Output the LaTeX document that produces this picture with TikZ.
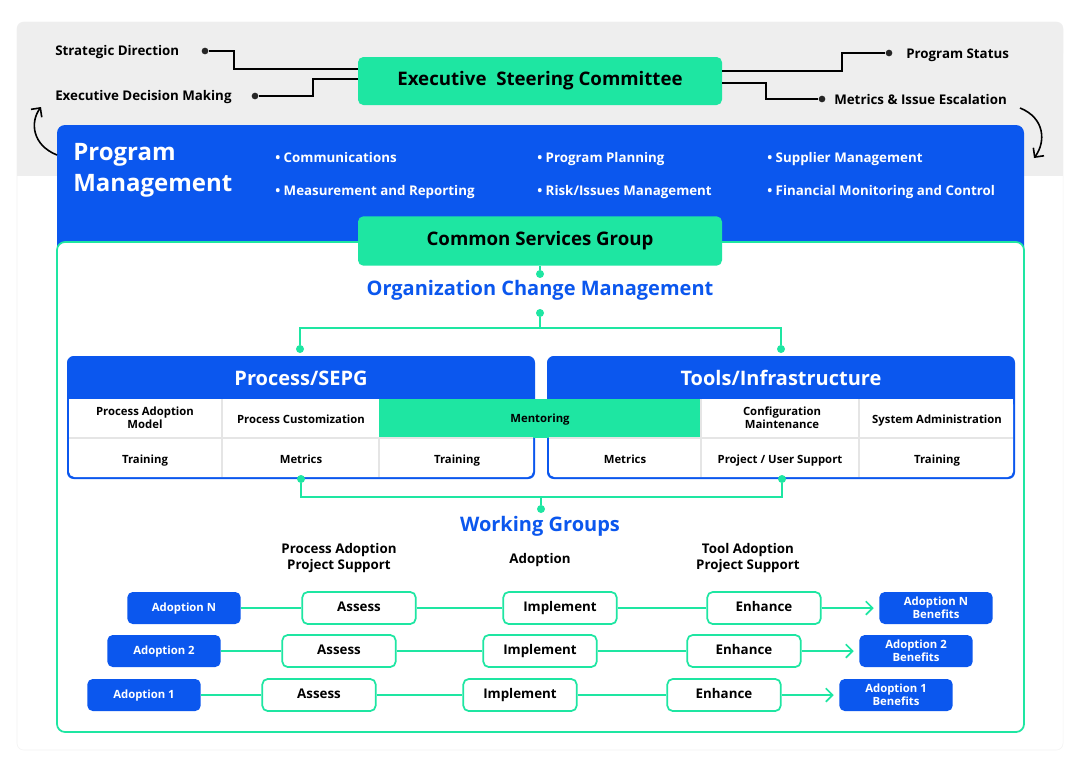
\documentclass[tikz,border=0pt]{standalone}
\usepackage{fontspec}
\setmainfont{Open Sans}
\usetikzlibrary{arrows.meta}
\definecolor{grn}{RGB}{30,230,162}
\definecolor{blu}{RGB}{11,87,238}
\definecolor{gry}{RGB}{238,238,238}
\begin{document}
\begin{tikzpicture}[x=0.75pt,y=-0.75pt,
 lab/.style={font=\fontsize{10}{12}\selectfont\bfseries,text=black},
 dot/.style={circle,fill=#1,inner sep=0pt,minimum size=6pt},
 gbox/.style={fill=grn,rounded corners=4pt,font=\fontsize{14}{16}\selectfont\bfseries,text height=10pt,text depth=3pt},
 cell/.style={font=\fontsize{8.5}{9.5}\selectfont\bfseries,align=center,inner sep=0pt},
 wbox/.style={draw=grn,line width=1.3pt,fill=white,rounded corners=4pt,minimum width=85pt,minimum height=24pt,font=\fontsize{10}{12}\selectfont\bfseries,text height=7.5pt,text depth=2pt},
 bbox/.style={fill=blu,rounded corners=4pt,minimum width=85pt,minimum height=24pt,text=white,font=\fontsize{8.5}{9.5}\selectfont\bfseries,align=center,inner sep=1pt},
 gl/.style={draw=grn,line width=1.3pt},
 kl/.style={draw=black,line width=1.2pt},
 ttl/.style={text=blu,font=\fontsize{15}{17}\selectfont\bfseries}]
\useasboundingbox (0,0) rectangle (1080,764);
\fill[white] (0,0) rectangle (1080,764);
% outer panel
\draw[gry!80!black!20,fill=white,rounded corners=5pt] (17,22) rectangle (1063,750);
\fill[gry,rounded corners=5pt] (17,22) rectangle (1063,60);
\fill[gry] (17,40) rectangle (1063,176);
% blue program management
\fill[blu,rounded corners=6pt] (57,125) rectangle (1024,260);
\draw[grn,line width=1.3pt,fill=white,rounded corners=6pt] (57,242) rectangle (1024,732);
\node[text=white,font=\fontsize{18}{23.5}\selectfont\bfseries,anchor=north west,align=left,inner sep=0pt] (pm) at (73,143) {Program\\Management};
\foreach \x/\y/\t [count=\i] in {275/157/{Communications},275/190/{Measurement and Reporting},537/157/{Program Planning},537/190/{Risk/Issues Management},767/157/{Supplier Management},767/190/{Financial Monitoring and Control}}{
 \node[text=white,font=\fontsize{10}{12}\selectfont\bfseries,anchor=base west,inner sep=0pt] (b\i) at (\x,\y+5) {\textbullet\ \t};}
% executive
\node[gbox,minimum width=273pt,minimum height=36pt] (esc) at (540,81) {Executive\ \ Steering Committee};
\node[lab,anchor=base west,inner sep=0pt] (sd) at (55,55) {Strategic Direction};
\node[lab,anchor=base west,inner sep=0pt] (edm) at (55,100) {Executive Decision Making};
\node[lab,anchor=base west,inner sep=0pt] (ps) at (906,58) {Program Status};
\node[lab,anchor=base west,inner sep=0pt] (mie) at (834,104) {Metrics \& Issue Escalation};
\node[dot=black!85,minimum size=5pt] (d1) at (205,51) {};
\node[dot=black!85,minimum size=5pt] (d2) at (255,96) {};
\node[dot=black!85,minimum size=5pt] (d3) at (889,53) {};
\node[dot=black!85,minimum size=5pt] (d4) at (822,99) {};
\draw[kl] (d1) -- (234,51) -- (234,69) -- (358,69);
\draw[kl] (d2) -- (313,96) -- (313,79) -- (358,79);
\draw[kl] (722,71) -- (842,71) -- (842,53) -- (d3);
\draw[kl] (722,83) -- (766,83) -- (766,99) -- (d4);
\coordinate (la) at (57,155); \coordinate (lb) at (41,107);
\coordinate (ra) at (1020,108); \coordinate (rb) at (1034,158);
\draw[kl,-{Straight Barb[length=5pt]}] (la) .. controls (32,145) and (30,122) .. (lb);
\draw[kl,-{Straight Barb[length=5pt]}] (ra) .. controls (1045,118) and (1046,142) .. (rb);
% common services
\node[gbox,minimum width=273pt,minimum height=37pt] (csg) at (540,241) {Common Services Group};
\node[dot=grn] (o1) at (540,274) {};
\node[ttl] (ocm) at (540,290) {Organization Change Management};
\node[dot=grn] (o2) at (540,313) {};
\node[dot=grn] (o3) at (300,349) {};
\node[dot=grn] (o4) at (781,349) {};
\draw[gl] (csg) -- (o1);
\draw[gl] (o2) -- (540,328) -- (300,328) -- (o3);
\draw[gl] (540,328) -- (781,328) -- (o4);
% panels
\foreach \x in {67,547}{
 \fill[blu,rounded corners=5pt] (\x,356) rectangle ++(468,123);
 \fill[white,rounded corners=4pt] (\x+2,399) rectangle ++(464,78);}
\fill[white] (69,399) rectangle ++(464,20);
\fill[white] (549,399) rectangle ++(464,20);
\fill[grn] (379,399) rectangle (701,438);
\draw[gray!20,line width=0.8pt] (69,438) -- (379,438) (701,438) -- (1013,438)
 (379,438) -- (533,438) (549,438) -- (701,438)
 (222,399) -- (222,477) (379,438) -- (379,477) (701,399) -- (701,477) (859,399) -- (859,477);
\node[text=white,font=\fontsize{15}{17}\selectfont\bfseries] (sepg) at (301,378) {Process/SEPG};
\node[text=white,font=\fontsize{15}{17}\selectfont\bfseries] (tools) at (781,378) {Tools/Infrastructure};
\node[cell] (c1) at (145,418) {Process Adoption\\Model};
\node[cell,anchor=base] (c2) at (301,423) {Process Customization};
\node[cell,anchor=base] (c3) at (540,422) {Mentoring};
\node[cell] (c4) at (782,418) {Configuration\\Maintenance};
\node[cell,anchor=base] (c5) at (937,423) {System Administration};
\node[cell,anchor=base] (c6) at (145,463) {Training};
\node[cell,anchor=base] (c7) at (301,463) {Metrics};
\node[cell,anchor=base] (c8) at (457,463) {Training};
\node[cell,anchor=base] (c9) at (625,463) {Metrics};
\node[cell,anchor=base] (c10) at (780,463) {Project / User Support};
\node[cell,anchor=base] (c11) at (937,463) {Training};
% working groups link
\node[dot=grn] (w1) at (301,479) {};
\node[dot=grn] (w2) at (782,479) {};
\node[dot=grn] (w3) at (541,509) {};
\draw[gl] (w1) -- (301,497) -- (782,497) -- (w2);
\draw[gl] (541,497) -- (w3);
\node[ttl] (wg) at (540,526) {Working Groups};
\node[lab,align=center] (h1) at (339,558) {Process Adoption\\Project Support};
\node[lab] (h2) at (540,560) {Adoption};
\node[lab,align=center] (h3) at (748,558) {Tool Adoption\\Project Support};
% rows
\foreach \y/\s/\n in {608/0/N,651/-20/2,695/-40/1}{
 \node[bbox,text height=6.5pt,text depth=1.5pt] (a\n) at (184+\s,\y) {Adoption \n};
 \node[wbox] (as\n) at (359+\s,\y) {Assess};
 \node[wbox] (im\n) at (560+\s,\y) {Implement};
 \node[wbox] (en\n) at (764+\s,\y) {Enhance};
 \node[bbox] (bf\n) at (936+\s,\y) {Adoption \n\\Benefits};
 \draw[gl] (a\n) -- (as\n);
 \draw[gl] (as\n) -- (im\n);
 \draw[gl] (im\n) -- (en\n);
 \draw[gl,-{Straight Barb[length=5pt,width=10pt]}] (en\n) -- ([xshift=-4pt]bf\n.west);
}
\end{tikzpicture}
\end{document}
